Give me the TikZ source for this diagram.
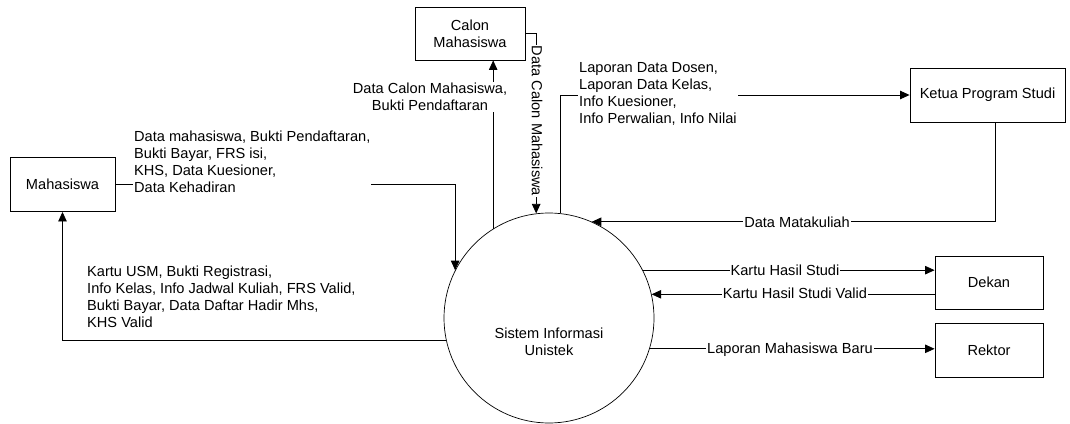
\documentclass[tikz,border=0pt]{standalone}
\usepackage{fontspec}
\setmainfont{Liberation Sans}
\usetikzlibrary{arrows.meta}
\begin{document}
\begin{tikzpicture}[x=1pt,y=-1pt,
  font=\fontsize{14.6}{17}\selectfont,
  entity/.style={draw, line width=0.9pt, align=center, inner sep=2pt},
  process/.style={draw, circle, line width=0.7pt, minimum size=210pt, inner sep=0pt},
  flow/.style={draw, line width=0.8pt, -{Triangle[length=9.5pt,width=8.5pt]}},
  lbl/.style={fill=white, inner sep=1pt},
  mlbl/.style={fill=white, inner sep=1pt, align=left, anchor=west}]
\useasboundingbox (0,0) rectangle (1070,423);

\node[entity, minimum width=110pt, minimum height=53pt] (calon) at (470,33.5) {Calon\\Mahasiswa};
\node[entity, minimum width=105pt, minimum height=54pt] (mhs) at (62.5,184.5) {Mahasiswa};
\node[entity, minimum width=155pt, minimum height=54pt] (ketua) at (987.5,95) {Ketua Program Studi};
\node[entity, minimum width=108pt, minimum height=53pt] (dekan) at (989,282.5) {Dekan};
\node[entity, minimum width=108pt, minimum height=54pt] (rektor) at (989,350) {Rektor};
\node[process] (sis) at (549,318) {};
\node (sistxt) at (549,342) [align=center] {Sistem Informasi\\Unistek};

% Mahasiswa -> Sistem
\draw[flow] (mhs.east) -| (sis.153.4);
\node[mlbl] (l1) at (133,162) {Data mahasiswa, Bukti Pendaftaran,\\Bukti Bayar, FRS isi,\\KHS, Data Kuesioner,\\Data Kehadiran};

% Sistem -> Mahasiswa
\draw[flow] (sis.192.1) -| (mhs.south);
\node[align=left, anchor=west, inner sep=1pt] (l2) at (86,296.5) {Kartu USM, Bukti Registrasi,\\Info Kelas, Info Jadwal Kuliah, FRS Valid,\\Bukti Bayar, Data Daftar Hadir Mhs,\\KHS Valid};

% Sistem -> Calon
\draw[flow] (sis.122.2) -- (sis.122.2 |- calon.south);
\node[lbl, align=center] (l3) at (430,97) {Data Calon Mahasiswa,\\Bukti Pendaftaran};

% Calon -> Sistem
\draw[flow] (calon.east) -| (sis.97.7);
\node[lbl, rotate=-90] (l4) at (537,121) {Data Calon Mahasiswa};

% Sistem -> Ketua
\draw[flow] (sis.84) |- (ketua.west);
\node[mlbl] (l5) at (578,93.5) {Laporan Data Dosen,\\Laporan Data Kelas,\\Info Kuesioner,\\Info Perwalian, Info Nilai};

% Ketua -> Sistem
\draw[flow] ([xshift=7.5pt]ketua.south) |- (sis.66.1);
\node[lbl] (l6) at (797,222) {Data Matakuliah};

% Sistem -> Dekan
\draw[flow] (sis.27.2) -- (sis.27.2 -| dekan.west);
\node[lbl] (l7) at (785,270) {Kartu Hasil Studi};

% Dekan -> Sistem
\draw[flow] (sis.13.8 -| dekan.west) -- (sis.13.8);
\node[lbl] (l8) at (795,293) {Kartu Hasil Studi Valid};

% Sistem -> Rektor
\draw[flow] (sis.-17.7) -- (sis.-17.7 -| rektor.west);
\node[lbl] (l9) at (790,350) {Laporan Mahasiswa Baru};
\end{tikzpicture}
\end{document}
